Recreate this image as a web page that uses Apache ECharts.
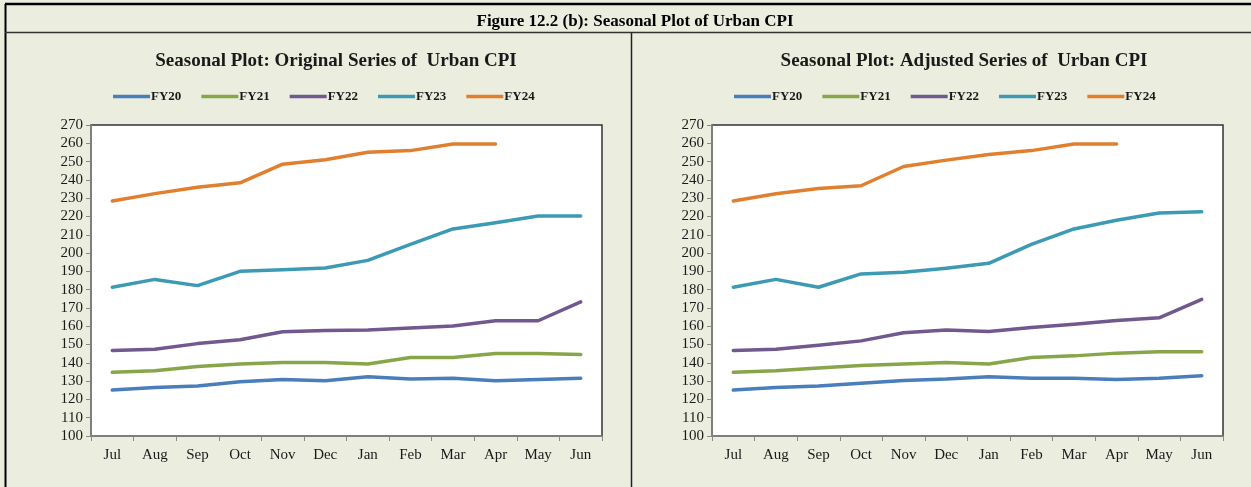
<!DOCTYPE html>
<html>
<head>
<meta charset="utf-8">
<script src="https://cdn.jsdelivr.net/npm/echarts@6/dist/echarts.min.js"></script>
<style>
  html, body { margin: 0; padding: 0; background: #EBEEDF; }
  #chart { width: 1251px; height: 487px; }
</style>
</head>
<body>
<div id="chart"></div>
<script>
// months of the fiscal year
const months = ['Jul', 'Aug', 'Sep', 'Oct', 'Nov', 'Dec', 'Jan', 'Feb', 'Mar', 'Apr', 'May', 'Jun'];
const seriesNames = ['FY20', 'FY21', 'FY22', 'FY23', 'FY24'];
const seriesColors = ['#4A7EBB', '#87A64A', '#71588F', '#3D9AB4', '#E0802F'];
const yTicks = [100, 110, 120, 130, 140, 150, 160, 170, 180, 190, 200, 210, 220, 230, 240, 250, 260, 270];

// original series
const origFY20 = [125.1, 126.5, 127.3, 129.6, 130.9, 130.2, 132.4, 131.1, 131.6, 130.2, 130.9, 131.6];
const origFY21 = [134.8, 135.7, 138.0, 139.4, 140.2, 140.2, 139.3, 142.9, 142.9, 145.1, 145.1, 144.5];
const origFY22 = [146.7, 147.4, 150.5, 152.6, 157.0, 157.7, 157.9, 159.1, 160.1, 163.0, 163.0, 173.3];
const origFY23 = [181.3, 185.6, 182.2, 190.0, 190.9, 191.8, 196.0, 204.8, 213.2, 216.6, 220.3, 220.3];
const origFY24 = [228.5, 232.5, 236.0, 238.4, 248.6, 251.0, 255.1, 256.0, 259.6, 259.6, null, null];

// seasonally adjusted series
const adjFY20 = [125.1, 126.5, 127.3, 128.9, 130.4, 131.1, 132.4, 131.6, 131.6, 130.9, 131.6, 132.9];
const adjFY21 = [134.8, 135.7, 137.2, 138.5, 139.4, 140.2, 139.4, 142.9, 143.8, 145.3, 146.0, 146.0];
const adjFY22 = [146.7, 147.4, 149.6, 152.0, 156.4, 157.9, 157.1, 159.3, 161.1, 163.1, 164.6, 174.7];
const adjFY23 = [181.3, 185.6, 181.3, 188.6, 189.5, 191.7, 194.4, 204.8, 213.2, 217.9, 221.9, 222.6];
const adjFY24 = [228.5, 232.4, 235.3, 236.8, 247.3, 250.8, 253.9, 256.0, 259.6, 259.6, null, null];

const origData = [origFY20, origFY21, origFY22, origFY23, origFY24];
const adjData = [adjFY20, adjFY21, adjFY22, adjFY23, adjFY24];

const serif = '"Liberation Serif", "DejaVu Serif", serif';

const myChart = echarts.init(document.getElementById('chart'));

function makeXAxis(idx) {
  return {
    type: 'category',
    gridIndex: idx,
    data: months,
    boundaryGap: true,
    axisLine: { lineStyle: { color: '#888888', width: 1.5 } },
    axisTick: { show: true, length: 5, lineStyle: { color: '#888888' } },
    axisLabel: { fontFamily: serif, fontSize: 15, color: '#1a1a1a', margin: 12 },
    splitLine: { show: false }
  };
}

function makeYAxis(idx) {
  return {
    type: 'value',
    gridIndex: idx,
    min: yTicks[0],
    max: yTicks[yTicks.length - 1],
    interval: 10,
    axisLine: { show: true, lineStyle: { color: '#888888', width: 1.5 } },
    axisTick: { show: true, length: 5, lineStyle: { color: '#888888' } },
    axisLabel: { fontFamily: serif, fontSize: 15, color: '#1a1a1a', margin: 8 },
    splitLine: { show: false }
  };
}

function makeSeries(dataList, idx) {
  return seriesNames.map(function (name, i) {
    return {
      name: name,
      type: 'line',
      xAxisIndex: idx,
      yAxisIndex: idx,
      data: dataList[i],
      symbol: 'none',
      smooth: false,
      lineStyle: { color: seriesColors[i], width: 3.5, cap: 'round', join: 'round' },
      itemStyle: { color: seriesColors[i] }
    };
  });
}

const legendBase = {
  data: seriesNames,
  top: 90,
  padding: 0,
  icon: 'rect',
  itemWidth: 37,
  itemHeight: 3.5,
  itemGap: 20,
  textStyle: { fontFamily: serif, fontSize: 13, fontWeight: 'bold', color: '#1a1a1a', padding: [0, 0, 0, -4] }
};

const option = {
  backgroundColor: '#EBEEDF',
  animation: false,
  color: seriesColors,
  title: [
    {
      text: 'Figure 12.2 (b): Seasonal Plot of Urban CPI',
      left: 630, top: 8, textAlign: 'center',
      textStyle: { fontFamily: serif, fontSize: 17, fontWeight: 'bold', color: '#000' }
    },
    {
      text: 'Seasonal Plot: Original Series of  Urban CPI',
      left: 331, top: 47, textAlign: 'center',
      textStyle: { fontFamily: serif, fontSize: 19, fontWeight: 'bold', color: '#1a1a1a' }
    },
    {
      text: 'Seasonal Plot: Adjusted Series of  Urban CPI',
      left: 959, top: 47, textAlign: 'center',
      textStyle: { fontFamily: serif, fontSize: 19, fontWeight: 'bold', color: '#1a1a1a' }
    }
  ],
  legend: [
    Object.assign({}, legendBase, { left: 113 }),
    Object.assign({}, legendBase, { left: 734 })
  ],
  grid: [
    { left: 91, top: 125, width: 511, height: 311, show: true, backgroundColor: '#FFFFFF', borderColor: '#333333', borderWidth: 1.5, containLabel: false },
    { left: 712, top: 125, width: 511, height: 311, show: true, backgroundColor: '#FFFFFF', borderColor: '#333333', borderWidth: 1.5, containLabel: false }
  ],
  xAxis: [makeXAxis(0), makeXAxis(1)],
  yAxis: [makeYAxis(0), makeYAxis(1)],
  series: makeSeries(origData, 0).concat(makeSeries(adjData, 1)),
  // frame lines of the figure box
  graphic: [
    { type: 'line', shape: { x1: 5, y1: 4, x2: 1251, y2: 4 }, style: { stroke: '#000', lineWidth: 2.5 } },
    { type: 'line', shape: { x1: 5.5, y1: 4, x2: 5.5, y2: 487 }, style: { stroke: '#000', lineWidth: 2 } },
    { type: 'line', shape: { x1: 5, y1: 32.5, x2: 1251, y2: 32.5 }, style: { stroke: '#333', lineWidth: 1.5 } },
    { type: 'line', shape: { x1: 631.5, y1: 32.5, x2: 631.5, y2: 487 }, style: { stroke: '#222', lineWidth: 1.5 } }
  ]
};

myChart.setOption(option);
</script>
</body>
</html>
